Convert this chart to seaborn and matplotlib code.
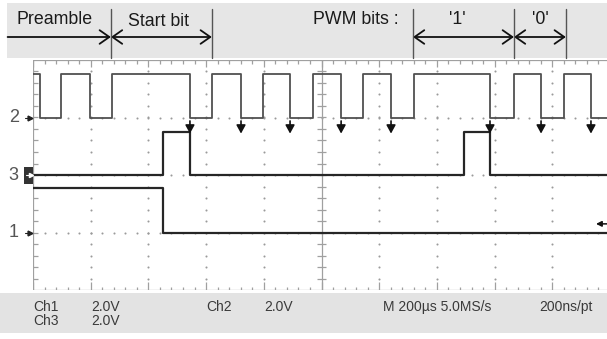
import numpy as np
import pandas as pd
import matplotlib
matplotlib.use("Agg")
import matplotlib.pyplot as plt
import seaborn as sns
from matplotlib import transforms
from matplotlib.patches import Rectangle

# ---------------- data ----------------
time_per_div_us = 200
# Ch2: PWM signal (edge times in microseconds, logic state after each edge)
ch2_edges_us = [0, 24, 97, 198, 274, 544, 620, 721, 797, 891, 971, 1068,
                1144, 1241, 1321, 1584, 1667, 1761, 1840, 1934, 1990]
ch2_states = [1, 0, 1, 0, 1, 0, 1, 0, 1, 0, 1, 0, 1, 0, 1, 0, 1, 0, 1, 0, 0]
ch2_low_div, ch2_high_div = 3.0, 3.75
# Ch3: bit-detect pulses
ch3_edges_us = [0, 451, 544, 1494, 1584, 1990]
ch3_states = [0, 1, 0, 1, 0, 0]
ch3_low_div, ch3_high_div = 2.0, 2.74
# Ch1: enable line
ch1_edges_us = [0, 451, 1990]
ch1_states = [1, 0, 0]
ch1_low_div, ch1_high_div = 1.0, 1.77
# bit boundaries of the annotation band (us)
bit_bounds_us = [-88, 270, 620, 1317, 1667, 1847]
trigger_level_div = 1.15
channel_labels = ["2", "3", "1"]
channel_ground_div = [ch2_low_div, ch3_low_div, ch1_low_div]
readout_row1 = ["Ch1", "2.0V", "Ch2", "2.0V", "M 200\u00b5s 5.0MS/s", "200ns/pt"]
readout_row2 = ["Ch3", "2.0V"]

# ---------------- figure ----------------
sns.set_theme(style="white")
plt.rcParams["font.family"] = ["Liberation Sans", "DejaVu Sans"]

W, H = 607, 339
fig = plt.figure(figsize=(W / 100, H / 100), dpi=100)
fig.patch.set_facecolor("white")


def fx(px):
    return px / W


def fy(py):
    return 1 - py / H


# grey bands (drawn below the axes)
fig.patches.append(Rectangle((fx(7), fy(58)), 1 - fx(7), fy(3) - fy(58),
                             transform=fig.transFigure, facecolor="#e6e6e6",
                             edgecolor="none", zorder=-5))
fig.patches.append(Rectangle((0, fy(333)), 1, fy(293) - fy(333),
                             transform=fig.transFigure, facecolor="#e3e3e3",
                             edgecolor="none", zorder=-5))

X0, X1, YT, YB = 33, 607, 60, 290
pxx = 57.7   # px per horizontal division
pxy = 57.5   # px per vertical division
ax = fig.add_axes([fx(X0), fy(YB), fx(X1) - fx(X0), fy(YT) - fy(YB)])
xmax = (X1 - X0) / pxx * time_per_div_us
us_per_px = time_per_div_us / pxx
div_per_px = 1 / pxy

# ---------------- graticule ----------------
gcol = "#a0a0a0"
minor_y = np.arange(0.2, 4.0, 0.2)
minor_x = np.arange(0, xmax, time_per_div_us / 5)
dx, dy = [], []
for k in range(1, 10):
    if k == 5:
        continue
    dx += [k * time_per_div_us] * len(minor_y)
    dy += list(minor_y)
for j in (1, 2, 3):
    xs = minor_x[1:]
    dx += list(xs)
    dy += [j] * len(xs)
ax.scatter(dx, dy, s=2.2, color="#9a9a9a", linewidths=0, zorder=1)

ax.axhline(4, color=gcol, lw=0.9, zorder=1)
ax.axhline(0, color=gcol, lw=0.9, zorder=1)
ax.axvline(0, color=gcol, lw=0.9, zorder=1)
ax.axvline(5 * time_per_div_us, color=gcol, lw=0.9, zorder=1)
for t in minor_x:
    major = abs(t / time_per_div_us - round(t / time_per_div_us)) < 1e-6
    Lt = (7 if major else 4) * div_per_px
    Lb = (8 if major else 3.5) * div_per_px
    ax.vlines(t, 4 - Lt, 4, color=gcol, lw=0.9, zorder=1)
    ax.vlines(t, 0, Lb, color=gcol, lw=0.9, zorder=1)
for y in minor_y:
    ax.hlines(y, 0, 5 * us_per_px, color=gcol, lw=0.9, zorder=1)
    ax.hlines(y, 5 * time_per_div_us - 4.5 * us_per_px,
              5 * time_per_div_us + 4.5 * us_per_px, color=gcol, lw=0.9, zorder=1)


# ---------------- traces ----------------
def trace_df(edges, states, lo, hi):
    return pd.DataFrame({"t": edges, "v": [hi if s else lo for s in states]})


df2 = trace_df(ch2_edges_us, ch2_states, ch2_low_div, ch2_high_div)
df3 = trace_df(ch3_edges_us, ch3_states, ch3_low_div, ch3_high_div)
df1 = trace_df(ch1_edges_us, ch1_states, ch1_low_div, ch1_high_div)
sns.lineplot(data=df2, x="t", y="v", ax=ax, color="#505050", lw=1.3,
             drawstyle="steps-post", estimator=None, sort=False, legend=False, zorder=3)
sns.lineplot(data=df3, x="t", y="v", ax=ax, color="#262626", lw=1.6,
             drawstyle="steps-post", estimator=None, sort=False, legend=False, zorder=3)
sns.lineplot(data=df1, x="t", y="v", ax=ax, color="#262626", lw=1.6,
             drawstyle="steps-post", estimator=None, sort=False, legend=False, zorder=3)

# arrows below Ch2 falling edges (after the start bit begins)
for i in range(1, len(ch2_edges_us)):
    if ch2_states[i - 1] == 1 and ch2_states[i] == 0 and ch2_edges_us[i] > 500:
        t = ch2_edges_us[i]
        ax.annotate("", xy=(t, 2.72), xytext=(t, 2.94),
                    arrowprops=dict(arrowstyle="-|>,head_length=0.55,head_width=0.3",
                                    color="#111111", lw=1.2,
                                    mutation_scale=9, shrinkA=0, shrinkB=0),
                    zorder=4)

ax.set_xlim(0, xmax)
ax.set_ylim(0, 4)
ax.axis("off")

# ---------------- channel markers ----------------
tl = transforms.blended_transform_factory(fig.transFigure, ax.transData)
for lab, g in zip(channel_labels, channel_ground_div):
    xlab = fx(13) if lab == "3" else fx(14)
    ax.text(xlab, g, lab, transform=tl, ha="center", va="center",
            fontsize=13, color="#555555", clip_on=False)
    if lab == "3":
        ax.add_patch(Rectangle((fx(24), g - 8.5 * div_per_px), fx(33) - fx(24),
                               17 * div_per_px, transform=tl, facecolor="#333333",
                               edgecolor="none", clip_on=False, zorder=5))
        ax.plot([fx(26), fx(31)], [g, g], transform=tl, color="white", lw=0.8,
                clip_on=False, zorder=6)
        ax.plot([fx(31)], [g], transform=tl, marker=">", ms=3, color="white",
                clip_on=False, zorder=6)
    else:
        ax.plot([fx(25), fx(31)], [g, g], transform=tl, color="#222222", lw=0.8,
                clip_on=False, zorder=5)
        ax.plot([fx(30)], [g], transform=tl, marker=">", ms=3.5, color="#222222",
                clip_on=False, zorder=5)

# trigger-level marker on the right
ax.annotate("", xy=(fx(596), trigger_level_div), xycoords=tl,
            xytext=(fx(607), trigger_level_div), textcoords=tl,
            arrowprops=dict(arrowstyle="-|>", color="#111111", lw=1.1,
                            mutation_scale=8, shrinkA=0, shrinkB=0))

# ---------------- annotation band ----------------
tt = transforms.blended_transform_factory(ax.transData, fig.transFigure)
for b in bit_bounds_us[1:]:
    ax.plot([b, b], [fy(58), fy(9)], transform=tt, color="#555555", lw=1.0,
            clip_on=False, zorder=6)
arr_y = fy(37)
astyle = dict(color="#111111", lw=1.3, mutation_scale=14, shrinkA=0, shrinkB=0)
ax.annotate("", xy=(bit_bounds_us[1], arr_y), xycoords=tt,
            xytext=(bit_bounds_us[0], arr_y), textcoords=tt, annotation_clip=False,
            arrowprops=dict(arrowstyle="->,head_length=0.5,head_width=0.35", **astyle))
for a, b in [(bit_bounds_us[1], bit_bounds_us[2]),
             (bit_bounds_us[3], bit_bounds_us[4]),
             (bit_bounds_us[4], bit_bounds_us[5])]:
    ax.annotate("", xy=(b, arr_y), xycoords=tt, xytext=(a, arr_y), textcoords=tt,
                annotation_clip=False,
                arrowprops=dict(arrowstyle="<->,head_length=0.5,head_width=0.35", **astyle))

tkw = dict(fontsize=12.8, color="#1a1a1a", va="center")
fig.text(fx(55), fy(20), "Preamble", ha="center", **tkw)
fig.text(fx(158), fy(21.5), "Start bit", ha="center", **tkw)
fig.text(fx(313), fy(20), "PWM bits :", ha="left", **tkw)
fig.text(fx(457), fy(20), "'1'", ha="center", **tkw)
fig.text(fx(540), fy(20), "'0'", ha="center", **tkw)

# ---------------- readout ----------------
rkw = dict(fontsize=10, color="#3a3a3a", va="center", ha="left")
row1_x = [33, 91, 206, 264, 383, 539]
for x, s in zip(row1_x, readout_row1):
    fig.text(fx(x), fy(307), s, **rkw)
row2_x = [33, 91]
for x, s in zip(row2_x, readout_row2):
    fig.text(fx(x), fy(321), s, **rkw)

fig.savefig("out.png", dpi=100)
